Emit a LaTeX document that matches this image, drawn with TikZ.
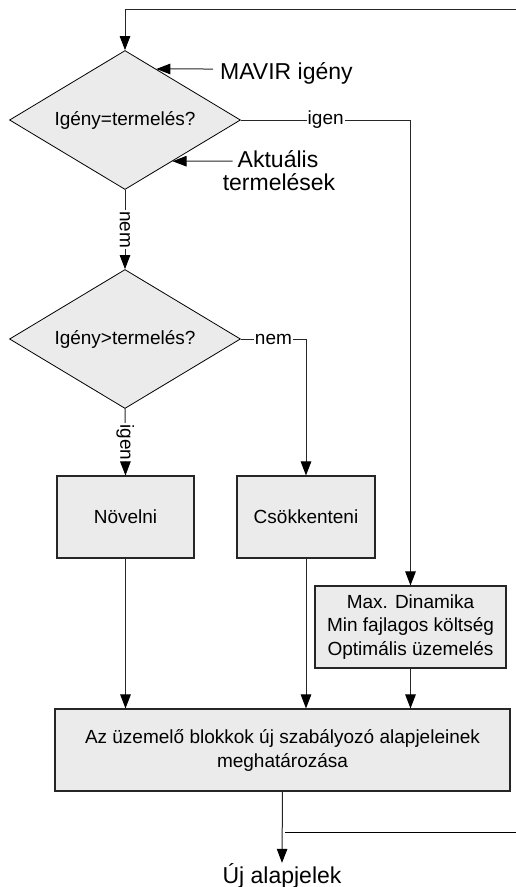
\documentclass[tikz,border=0pt]{standalone}
\usepackage{fontspec}
\setmainfont{Liberation Sans}
\usetikzlibrary{shapes.geometric,arrows.meta,calc}
\definecolor{boxfill}{HTML}{EBEBEB}
\begin{document}
\begin{tikzpicture}[x=1pt,y=-1pt,
  decision/.style={diamond,draw=black,line width=0.8pt,fill=boxfill,minimum width=231pt,minimum height=139pt,inner sep=0pt,shape aspect=1.66,font=\fontsize{19}{23}\selectfont},
  procbox/.style={rectangle,draw=black!85,line width=1.1pt,fill=boxfill,inner sep=0pt,align=center,font=\fontsize{19}{23.3}\selectfont},
  bigtxt/.style={font=\fontsize{23}{24}\selectfont,inner sep=0pt},
  conn/.style={draw=black!85,line width=1pt},
  arr/.style={conn,-{Triangle[length=14pt,width=10.5pt,color=black]}},
  lbl/.style={fill=white,inner sep=1pt,font=\fontsize{19}{23}\selectfont}]
\useasboundingbox (0,0) rectangle (516,887);

\node[decision] (d1) at (125,120) {Igény=termelés?};
\node[decision] (d2) at (125,339) {Igény>termelés?};
\node[procbox,minimum width=137pt,minimum height=82pt] (nov) at (125.5,517) {Növelni};
\node[procbox,minimum width=138pt,minimum height=82pt] (csok) at (306,517) {Csökkenteni};
\node[procbox,minimum width=191pt,minimum height=82pt] (max) at (410.5,627) {Max. Dinamika\\Min fajlagos költség\\Optimális üzemelés};
\node[procbox,minimum width=455pt,minimum height=82pt,font=\fontsize{19}{24}\selectfont] (big) at (282.5,750) {Az üzemelő blokkok új szabályozó alapjeleinek\\meghatározása};

\node[bigtxt,anchor=base west] (mavir) at (220,79) {MAVIR igény};
\node[bigtxt,anchor=base] (akt1) at (278,167) {Aktuális};
\node[bigtxt,anchor=base] (akt2) at (279,190) {termelések};
\node[bigtxt,anchor=base] (uj) at (282,883) {Új alapjelek};

\coordinate (tr) at (516,9);
\coordinate (bl) at (285,832);
\coordinate (br) at (516,832);

\draw[arr] (tr) -| (d1.north);
\draw[arr] ([xshift=-7pt,yshift=10pt]mavir.base west) -- ($(d1.north)!0.27!(d1.east)$);
\draw[arr] ([xshift=-5pt,yshift=6pt]akt1.base west) -- ($(d1.east)!0.59!(d1.south)$);

\draw[arr] (d1.south) -- node[lbl,rotate=-90] {nem} (d2.north);
\draw[arr] (d1.east) -| node[lbl,pos=0.25] {igen} (max.north);
\draw[arr] (d2.south) -- node[lbl,rotate=-90] {igen} (nov.north);
\draw[arr] (d2.east) -| node[lbl,pos=0.25] {nem} (csok.north);

\draw[arr] (nov.south) -- (nov.south |- big.north);
\draw[arr] (csok.south) -- (csok.south |- big.north);
\draw[arr] (max.south) -- (max.south |- big.north);
\draw[arr] (big.south) -- (uj.north);
\draw[conn,draw=black] (bl) -- (br);
\end{tikzpicture}
\end{document}
